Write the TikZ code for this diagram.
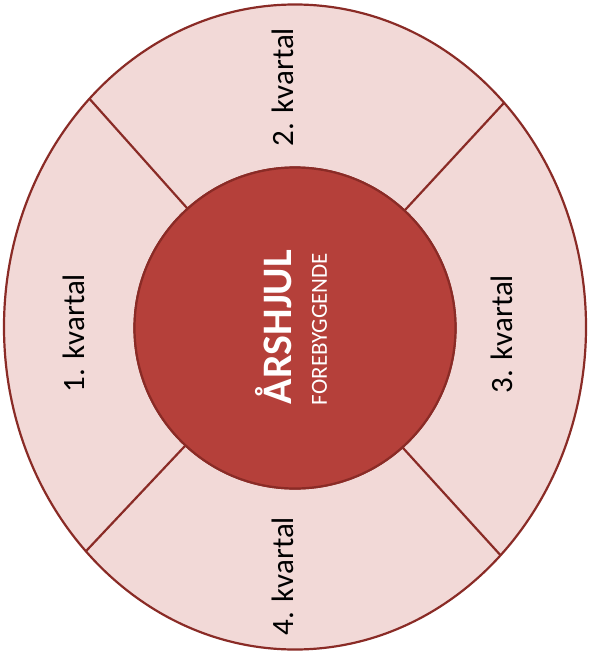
\documentclass[tikz,border=0pt]{standalone}
\usepackage{fontspec}
\setmainfont{Carlito}
\usetikzlibrary{positioning, shapes.geometric}
\definecolor{wheelpink}{HTML}{F2D9D7}
\definecolor{hubred}{HTML}{B5403A}
\definecolor{rimred}{HTML}{8A2B26}
\tikzset{
x=1pt, y=-1pt, % one unit is one pixel of the page, y runs down
node distance=200pt, % default distance for the left of/above of placements
every node/.style={inner sep=0pt, outer sep=0pt}, % anchors sit on the stroke
wheel/.style={ellipse, draw=rimred, fill=wheelpink, line width=2.2pt, minimum width=582pt, minimum height=645pt}, % the outer ring
hub/.style={circle, draw=rimred, fill=hubred, line width=2.2pt, minimum size=321pt}, % the middle disc
quarter/.style={rotate=90, font=\fontsize{31}{36}\selectfont}, % the four quarter labels
divider/.style={draw=rimred, line width=2.2pt}, % spokes between the quarters
}

\begin{document}
\begin{tikzpicture}
      \useasboundingbox (0,0) rectangle (589,653);
      \node[wheel] (wheel) at (295,327) {};
      \node[hub] (hub) at (295,328) {};

      \draw[divider] (hub.132.5) -- (wheel.132.5)
      (hub.47.5) -- (wheel.47.5)
      (hub.227.5) -- (wheel.227.5)
      (hub.312.5) -- (wheel.312.5);
      \node[hub] at (hub) {};

      \node[node distance=221pt, left of=hub, yshift=-5pt, quarter] (q1) {1. kvartal};
      \node[node distance=241pt, above of=hub, xshift=-12pt, quarter] (q2) {2. kvartal};
      \node[node distance=207pt, right of=hub, yshift=-6pt, quarter] (q3) {3. kvartal};
      \node[node distance=248pt, below of=hub, xshift=-12pt, quarter] (q4) {4. kvartal};

      \node[white, font=\fontsize{42}{48}\selectfont\bfseries, xshift=-21pt, yshift=1pt, rotate=90] (title) at (hub) {ÅRSHJUL};
      \node[white, font=\fontsize{23}{28}\selectfont, xshift=24.5pt, yshift=-1pt, rotate=90] (subtitle) at (hub) {FOREBYGGENDE};
    \end{tikzpicture}
\end{document}
